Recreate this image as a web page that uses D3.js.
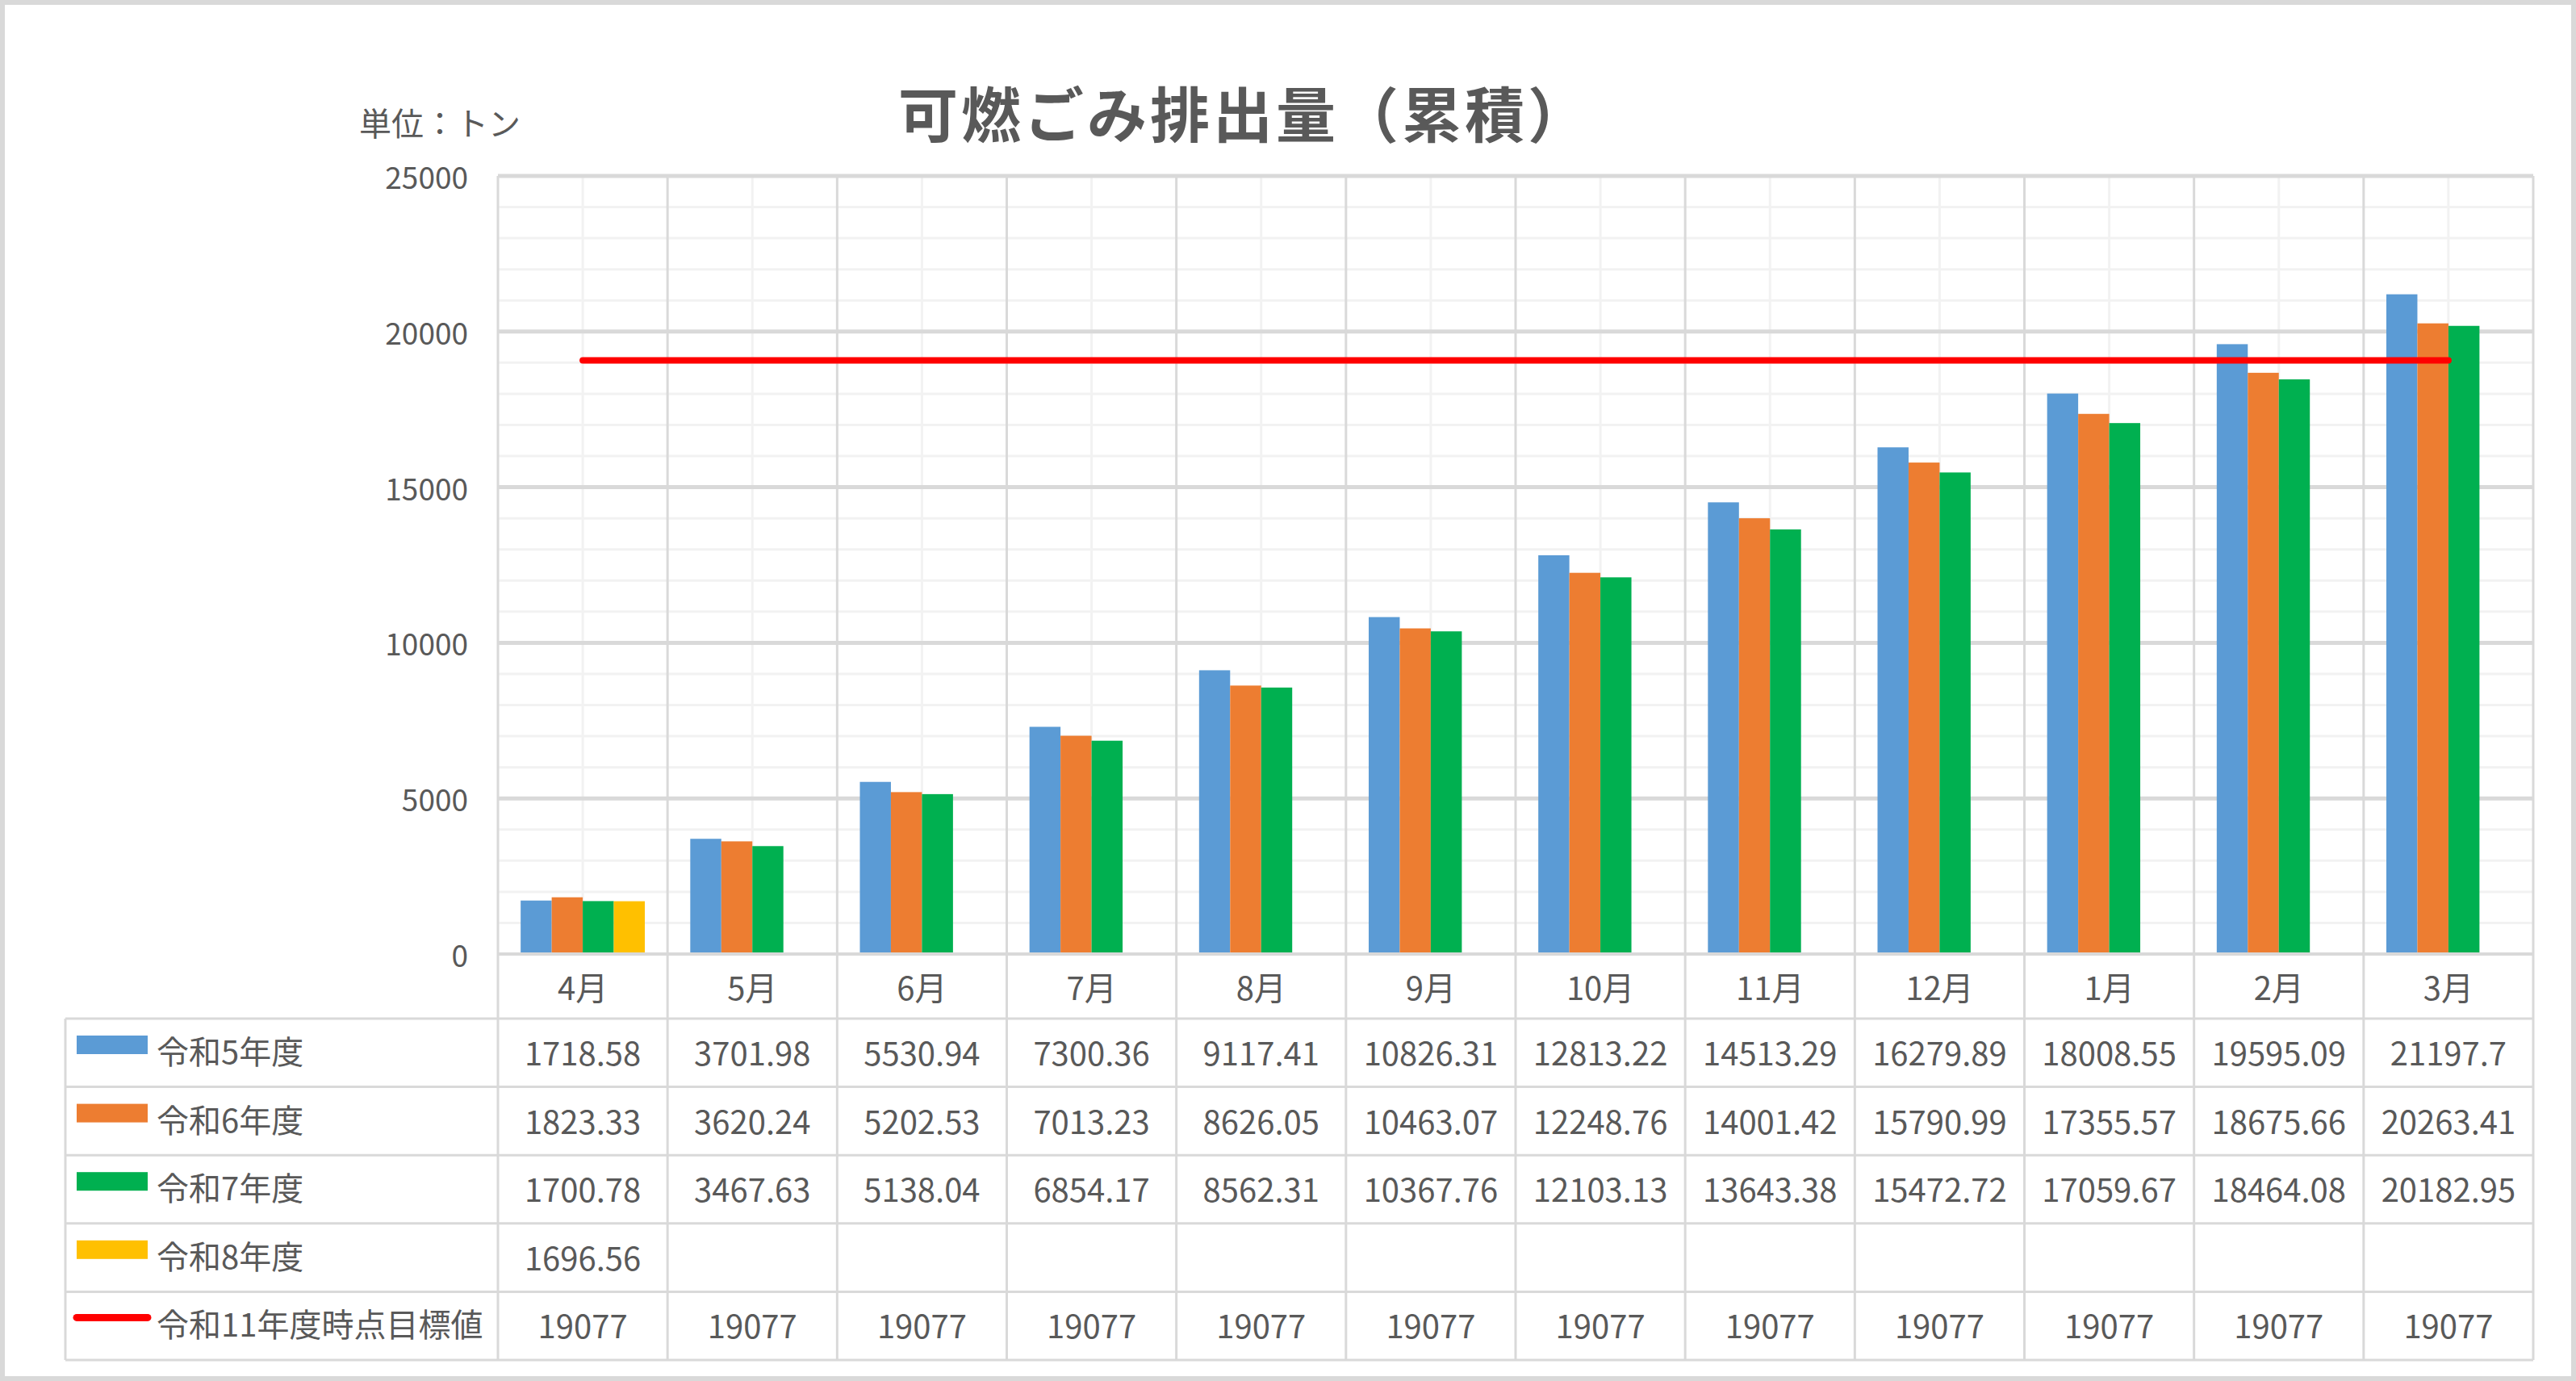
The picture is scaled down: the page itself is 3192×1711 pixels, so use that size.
<!DOCTYPE html>
<html lang="ja">
<head>
  <meta charset="utf-8">
  <title>可燃ごみ排出量（累積）</title>
  <style>
    html, body { margin: 0; padding: 0; background: #ffffff; }
    svg { display: block; font-family: "Noto Sans CJK JP", "Noto Sans", sans-serif; }
  </style>
</head>
<body>
  <svg id="chart" width="3192" height="1711"></svg>
  <script src="https://d3js.org/d3.v7.min.js"></script>
  <script>

    // data
    var months = ["4月","5月","6月","7月","8月","9月","10月","11月","12月","1月","2月","3月"];
    var seriesNames = ["令和5年度","令和6年度","令和7年度","令和8年度"];
    var seriesColors = ["#5B9BD5","#ED7D31","#00B050","#FFC000"];
    var r5 = [1718.58,3701.98,5530.94,7300.36,9117.41,10826.31,12813.22,14513.29,16279.89,18008.55,19595.09,21197.7];
    var r6 = [1823.33,3620.24,5202.53,7013.23,8626.05,10463.07,12248.76,14001.42,15790.99,17355.57,18675.66,20263.41];
    var r7 = [1700.78,3467.63,5138.04,6854.17,8562.31,10367.76,12103.13,13643.38,15472.72,17059.67,18464.08,20182.95];
    var r8 = [1696.56,null,null,null,null,null,null,null,null,null,null,null];
    var targetName = "令和11年度時点目標値";
    var target = [19077,19077,19077,19077,19077,19077,19077,19077,19077,19077,19077,19077];
    var yTicks = [0,5000,10000,15000,20000,25000];

    var seriesValues = [r5, r6, r7, r8];

    var W = 3192, H = 1711;
    var plotLeft = 617, plotRight = 3139, plotTop = 218, plotBottom = 1182;
    var tableLeft = 81, tableTop = 1262, rowH = 84.6;
    var textColor = "#595959", majorGrid = "#D9D9D9", minorGrid = "#F2F2F2";

    var svg = d3.select("#chart");

    // outer frame
    svg.append("rect")
    .attr("x", 3).attr("y", 3)
    .attr("width", W - 6).attr("height", H - 6)
    .style("fill", "#ffffff")
    .style("stroke", majorGrid)
    .style("stroke-width", 6);

    var x = d3.scaleBand()
    .domain(months)
    .range([plotLeft, plotRight])
    .padding(0);

    var bw = x.bandwidth();

    var xs = d3.scaleBand()
    .domain(seriesNames)
    .range([bw * 0.134, bw * 0.866])
    .padding(0);

    var y = d3.scaleLinear()
    .domain([0, 25000])
    .range([plotBottom, plotTop]);

    // minor horizontal grid (every 1000)
    svg.append("g")
    .selectAll("line")
    .data(y.ticks(25).filter(function(d){ return d % 5000 != 0; }))
    .enter().append("line")
    .attr("x1", plotLeft).attr("x2", plotRight)
    .attr("y1", function(d){ return y(d); })
    .attr("y2", function(d){ return y(d); })
    .style("stroke", minorGrid)
    .style("stroke-width", 3);

    // minor vertical grid at category centres
    svg.append("g")
    .selectAll("line")
    .data(months)
    .enter().append("line")
    .attr("x1", function(d){ return x(d) + bw / 2; })
    .attr("x2", function(d){ return x(d) + bw / 2; })
    .attr("y1", plotTop).attr("y2", plotBottom)
    .style("stroke", minorGrid)
    .style("stroke-width", 3);

    // major horizontal grid
    svg.append("g")
    .selectAll("line")
    .data(yTicks)
    .enter().append("line")
    .attr("x1", plotLeft).attr("x2", plotRight)
    .attr("y1", function(d){ return y(d); })
    .attr("y2", function(d){ return y(d); })
    .style("stroke", majorGrid)
    .style("stroke-width", function(d){ return d == 0 ? 4 : 5; });

    // category boundaries, running down through the data table
    var tableBottom = tableTop + rowH * 5;
    svg.append("g")
    .selectAll("line")
    .data(months.map(function(m){ return x(m); }).concat([plotRight]))
    .enter().append("line")
    .attr("x1", function(d){ return d; })
    .attr("x2", function(d){ return d; })
    .attr("y1", plotTop).attr("y2", tableBottom)
    .style("stroke", majorGrid)
    .style("stroke-width", 3);

    // y axis labels
    svg.append("g")
    .selectAll("text")
    .data(yTicks)
    .enter().append("text")
    .attr("x", 580)
    .attr("y", function(d){ return y(d); })
    .attr("text-anchor", "end")
    .attr("dominant-baseline", "central")
    .style("font-size", "37px")
    .style("fill", textColor)
    .text(function(d){ return d; });

    // bars
    var bars = [];
    seriesValues.forEach(function(vals, s) {
      vals.forEach(function(v, i) {
        if (v != null) bars.push({ series: seriesNames[s], color: seriesColors[s], month: months[i], value: v });
      });
    });

    svg.append("g")
    .selectAll("rect")
    .data(bars)
    .enter().append("rect")
    .attr("x", function(d){ return x(d.month) + xs(d.series); })
    .attr("width", xs.bandwidth())
    .attr("y", function(d){ return y(d.value); })
    .attr("height", function(d){ return y(0) - y(d.value) - 2; })
    .style("fill", function(d){ return d.color; });

    // target line
    var line = d3.line()
    .x(function(d, i){ return x(months[i]) + bw / 2; })
    .y(function(d){ return y(d); });

    svg.append("path")
    .datum(target)
    .attr("d", line)
    .style("fill", "none")
    .style("stroke", "#FF0000")
    .style("stroke-width", 8)
    .style("stroke-linecap", "round");

    // month labels
    svg.append("g")
    .selectAll("text")
    .data(months)
    .enter().append("text")
    .attr("x", function(d){ return x(d) + bw / 2; })
    .attr("y", 1222)
    .attr("text-anchor", "middle")
    .attr("dominant-baseline", "central")
    .style("font-size", "40px")
    .style("fill", textColor)
    .text(function(d){ return d; });

    // data table
    var rows = seriesNames.map(function(n, s) {
      return { name: n, color: seriesColors[s], values: seriesValues[s], line: false };
    });
    rows.push({ name: targetName, color: "#FF0000", values: target, line: true });

    var table = svg.append("g");

    table.selectAll("line.hrow")
    .data(d3.range(rows.length + 1))
    .enter().append("line")
    .attr("class", "hrow")
    .attr("x1", tableLeft).attr("x2", plotRight)
    .attr("y1", function(d){ return tableTop + d * rowH; })
    .attr("y2", function(d){ return tableTop + d * rowH; })
    .style("stroke", majorGrid)
    .style("stroke-width", 3);

    table.append("line")
    .attr("x1", tableLeft).attr("x2", tableLeft)
    .attr("y1", tableTop).attr("y2", tableBottom)
    .style("stroke", majorGrid)
    .style("stroke-width", 3);

    var row = table.selectAll("g.row")
    .data(rows)
    .enter().append("g")
    .attr("class", "row")
    .attr("transform", function(d, i){ return "translate(0," + (tableTop + i * rowH) + ")"; });

    row.filter(function(d){ return !d.line; })
    .append("rect")
    .attr("x", 95).attr("y", 21)
    .attr("width", 88).attr("height", 23)
    .style("fill", function(d){ return d.color; });

    row.filter(function(d){ return d.line; })
    .append("line")
    .attr("x1", 95).attr("x2", 183)
    .attr("y1", 32).attr("y2", 32)
    .style("stroke", function(d){ return d.color; })
    .style("stroke-width", 9)
    .style("stroke-linecap", "round");

    row.append("text")
    .attr("x", 194)
    .attr("y", 39)
    .attr("dominant-baseline", "central")
    .style("font-size", "40px")
    .style("fill", textColor)
    .text(function(d){ return d.name; });

    row.selectAll("text.val")
    .data(function(d){ return d.values.map(function(v, i){ return { month: months[i], value: v }; }); })
    .enter().append("text")
    .attr("class", "val")
    .attr("x", function(d){ return x(d.month) + bw / 2; })
    .attr("y", 41)
    .attr("text-anchor", "middle")
    .attr("dominant-baseline", "central")
    .style("font-size", "40px")
    .style("fill", textColor)
    .text(function(d){ return d.value == null ? "" : String(d.value); });

    // titles
    svg.append("text")
    .attr("x", 1113)
    .attr("y", 137)
    .attr("dominant-baseline", "central")
    .style("font-size", "74px")
    .style("font-weight", "bold")
    .style("letter-spacing", "4px")
    .style("fill", textColor)
    .text("可燃ごみ排出量（累積）");

    svg.append("text")
    .attr("x", 445)
    .attr("y", 151)
    .attr("dominant-baseline", "central")
    .style("font-size", "40px")
    .style("fill", textColor)
    .text("単位：トン");

  </script>
</body>
</html>
